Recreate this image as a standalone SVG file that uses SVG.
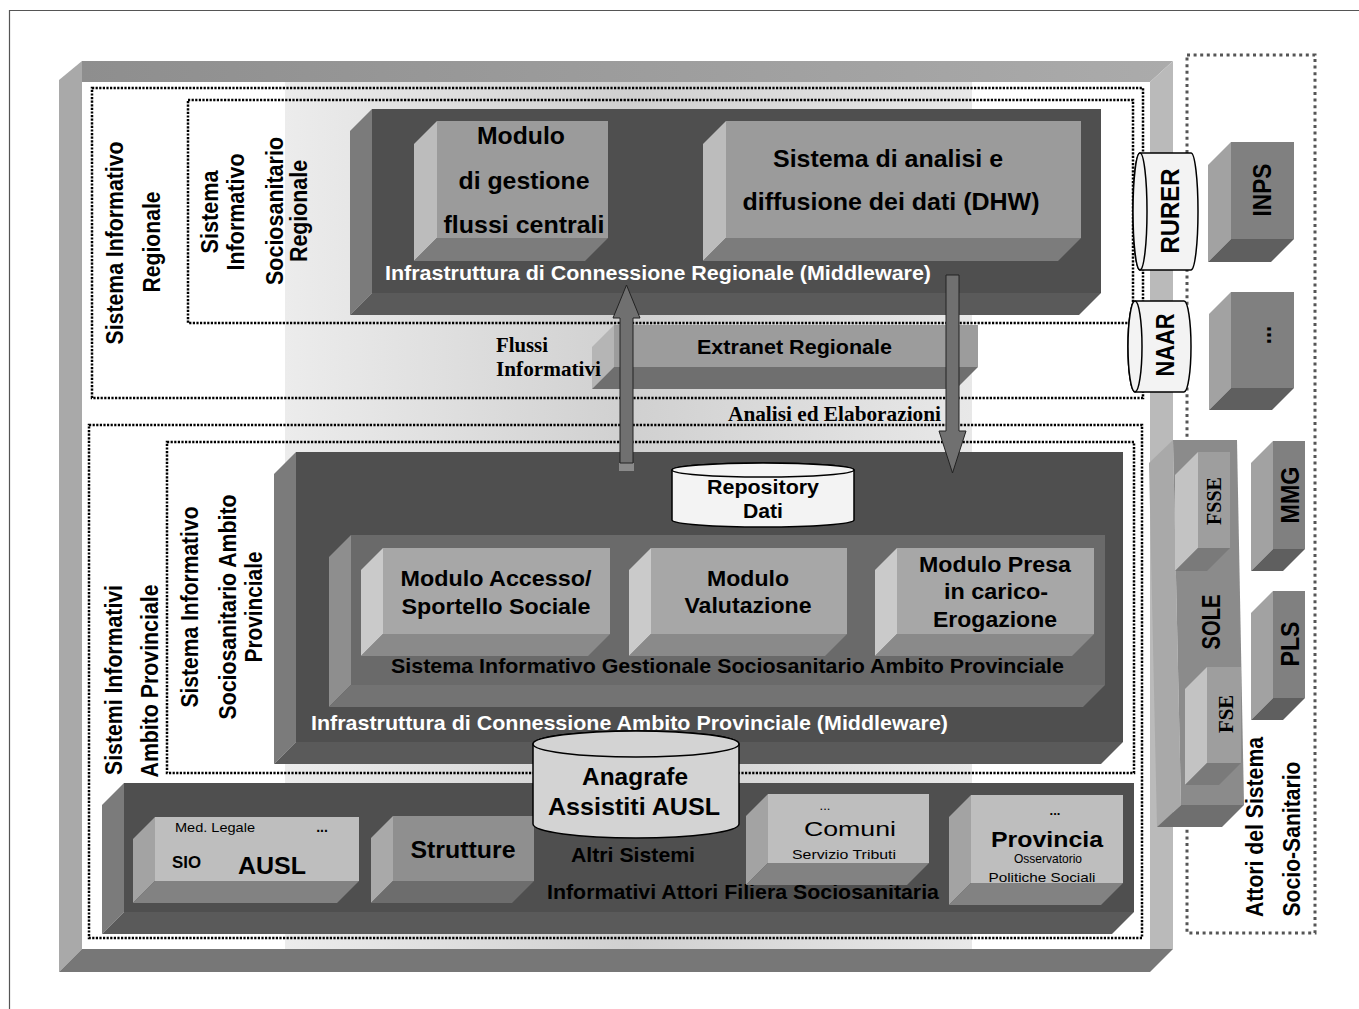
<svg xmlns="http://www.w3.org/2000/svg" width="1359" height="1009" viewBox="0 0 1359 1009">
  <defs>
    <linearGradient id="bandTop" x1="0" y1="0" x2="1" y2="0">
      <stop offset="0" stop-color="#8e8e8e"/>
      <stop offset="1" stop-color="#ababab"/>
    </linearGradient>
    <linearGradient id="haze" x1="0" y1="0" x2="1" y2="0">
      <stop offset="0" stop-color="#ececec"/>
      <stop offset="0.5" stop-color="#d0d0d0"/>
      <stop offset="1" stop-color="#e8e8e8"/>
    </linearGradient>
  </defs>
  <style>
    .sb{font-family:"Liberation Sans",Arial,sans-serif;font-weight:bold;fill:#000}
    .sr{font-family:"Liberation Sans",Arial,sans-serif;fill:#000}
    .tb{font-family:"Liberation Serif","Times New Roman",serif;font-weight:bold;fill:#000}
    .wt{fill:#fff}
    .mid{text-anchor:middle}
    .dot{fill:none;stroke:#000;stroke-width:2.5;stroke-dasharray:2.2 1.4}
    .dotg{fill:none;stroke:#555;stroke-width:3;stroke-dasharray:3 3.6}
    .dkF{fill:#4f4f4f}.dkL{fill:#7b7b7b}.dkB{fill:#5a5a5a}
    .mdF{fill:#9b9b9b}.mdL{fill:#bcbcbc}.mdB{fill:#7c7c7c}
    .gsF{fill:#6a6a6a}.gsL{fill:#8e8e8e}.gsB{fill:#737373}
    .pmF{fill:#a7a7a7}.pmL{fill:#cacaca}.pmB{fill:#8a8a8a}
    .ltF{fill:#bebebe}.ltL{fill:#a3a3a3}.ltB{fill:#828282}
    .stF{fill:#8f8f8f}.stL{fill:#a9a9a9}.stB{fill:#6d6d6d}
    .acF{fill:#808080}.acL{fill:#a2a2a2}.acB{fill:#5f5f5f}
    .soF{fill:#8b8b8b}.soL{fill:#a9a9a9}.soB{fill:#6f6f6f}
    .fsF{fill:#9e9e9e}.fsL{fill:#c3c3c3}.fsB{fill:#7a7a7a}
    .exF{fill:#9c9c9c}.exL{fill:#b5b5b5}.exB{fill:#6f6f6f}
    .cyl{stroke:#000;stroke-width:1.5}
    .arr{fill:#707070;stroke:#222;stroke-width:1}
  </style>

  <!-- page edge -->
  <path d="M9.5,1009 V10.5 H1359" fill="none" stroke="#555" stroke-width="1.2"/>

  <!-- outer bevelled frame -->
  <g id="frame">
    <rect x="82" y="82" width="1068" height="867" fill="#fff"/>
    <rect x="285" y="82" width="687" height="867" fill="url(#haze)"/>
    <polygon points="82,61 1173,61 1150,82 82,82" fill="url(#bandTop)"/>
    <polygon points="59,80 82,61 82,949 59,972" fill="#a9a9a9"/>
    <polygon points="1173,61 1173,949 1150,949 1150,82" fill="#bababa"/>
    <polygon points="82,949 1173,949 1150,972 59,972" fill="#777"/>
  </g>

  <!-- dotted area boundaries -->
  <g id="areas">
    <rect class="dot" x="92" y="88" width="1051" height="310"/>
    <rect class="dot" x="188" y="100" width="945" height="223"/>
    <rect class="dot" x="89" y="425" width="1053" height="513"/>
    <rect class="dot" x="167" y="442" width="967" height="331"/>
    <rect class="dotg" x="1187" y="55" width="128" height="878"/>
  </g>

  <!-- area titles -->
  <g id="labels-regionale">
    <text class="sb mid" font-size="21" textLength="203" lengthAdjust="spacingAndGlyphs" transform="translate(123,243) rotate(-90) scale(1,1.15)">Sistema Informativo</text>
    <text class="sb mid" font-size="21" textLength="101" lengthAdjust="spacingAndGlyphs" transform="translate(160,242) rotate(-90) scale(1,1.15)">Regionale</text>
    <text class="sb mid" font-size="21" textLength="83" lengthAdjust="spacingAndGlyphs" transform="translate(218,212) rotate(-90) scale(1,1.15)">Sistema</text>
    <text class="sb mid" font-size="21" textLength="117" lengthAdjust="spacingAndGlyphs" transform="translate(244,212) rotate(-90) scale(1,1.15)">Informativo</text>
    <text class="sb mid" font-size="21" textLength="148" lengthAdjust="spacingAndGlyphs" transform="translate(283,211) rotate(-90) scale(1,1.15)">Sociosanitario</text>
    <text class="sb mid" font-size="21" textLength="102" lengthAdjust="spacingAndGlyphs" transform="translate(307,211) rotate(-90) scale(1,1.15)">Regionale</text>
  </g>
  <g id="labels-provinciale">
    <text class="sb mid" font-size="21" textLength="190" lengthAdjust="spacingAndGlyphs" transform="translate(122,680) rotate(-90) scale(1,1.15)">Sistemi Informativi</text>
    <text class="sb mid" font-size="21" textLength="193" lengthAdjust="spacingAndGlyphs" transform="translate(158,681) rotate(-90) scale(1,1.15)">Ambito Provinciale</text>
    <text class="sb mid" font-size="21" textLength="201" lengthAdjust="spacingAndGlyphs" transform="translate(198,607) rotate(-90) scale(1,1.15)">Sistema Informativo</text>
    <text class="sb mid" font-size="21" textLength="225" lengthAdjust="spacingAndGlyphs" transform="translate(236,607) rotate(-90) scale(1,1.15)">Sociosanitario Ambito</text>
    <text class="sb mid" font-size="21" textLength="111" lengthAdjust="spacingAndGlyphs" transform="translate(262,607) rotate(-90) scale(1,1.15)">Provinciale</text>
  </g>

  <!-- regional middleware block -->
  <g id="middleware-regionale">
    <polygon class="dkL" points="372,109 350,131 350,315 372,293"/>
    <polygon class="dkB" points="372,293 1101,293 1079,315 350,315"/>
    <rect class="dkF" x="372" y="109" width="729" height="184"/>
    <text class="sb wt" x="385" y="280" font-size="20" textLength="546" lengthAdjust="spacingAndGlyphs">Infrastruttura di Connessione Regionale (Middleware)</text>
  </g>
  <g id="modulo-flussi">
    <polygon class="mdL" points="437,121 414,144 414,261 437,238"/>
    <polygon class="mdB" points="437,238 608,238 585,261 414,261"/>
    <rect class="mdF" x="437" y="121" width="171" height="117"/>
    <text class="sb mid" x="521" y="144" font-size="24" textLength="88" lengthAdjust="spacingAndGlyphs">Modulo</text>
    <text class="sb mid" x="524" y="189" font-size="24" textLength="131" lengthAdjust="spacingAndGlyphs">di gestione</text>
    <text class="sb mid" x="524" y="233" font-size="24" textLength="161" lengthAdjust="spacingAndGlyphs">flussi centrali</text>
  </g>
  <g id="dhw">
    <polygon class="mdL" points="726,121 703,144 703,261 726,238"/>
    <polygon class="mdB" points="726,238 1081,238 1058,261 703,261"/>
    <rect class="mdF" x="726" y="121" width="355" height="117"/>
    <text class="sb mid" x="888" y="167" font-size="24" textLength="230" lengthAdjust="spacingAndGlyphs">Sistema di analisi e</text>
    <text class="sb mid" x="891" y="210" font-size="24" textLength="297" lengthAdjust="spacingAndGlyphs">diffusione dei dati (DHW)</text>
  </g>
  <g id="extranet">
    <polygon class="exL" points="614,325 592,347 592,389 614,367"/>
    <polygon class="exB" points="614,367 978,367 956,389 592,389"/>
    <rect class="exF" x="614" y="325" width="364" height="42"/>
    <text class="sb mid" x="794.5" y="354" font-size="20.5" textLength="195" lengthAdjust="spacingAndGlyphs">Extranet Regionale</text>
  </g>

  <!-- provincial middleware block -->
  <g id="middleware-provinciale">
    <polygon class="dkL" points="296,452 274,474 274,764 296,742"/>
    <polygon class="dkB" points="296,742 1123,742 1101,764 274,764"/>
    <rect class="dkF" x="296" y="452" width="827" height="290"/>
    <text class="sb wt" x="311" y="730" font-size="20.5" textLength="637" lengthAdjust="spacingAndGlyphs">Infrastruttura di Connessione Ambito Provinciale (Middleware)</text>
  </g>
  <g id="gestionale">
    <polygon class="gsL" points="351,535 329,557 329,707 351,685"/>
    <polygon class="gsB" points="351,685 1105,685 1083,707 329,707"/>
    <rect class="gsF" x="351" y="535" width="754" height="150"/>
    <text class="sb" x="391" y="673" font-size="20.5" textLength="673" lengthAdjust="spacingAndGlyphs">Sistema Informativo Gestionale Sociosanitario Ambito Provinciale</text>
  </g>
  <g id="modulo-accesso">
    <polygon class="pmL" points="383,548 361,570 361,656 383,634"/>
    <polygon class="pmB" points="383,634 610,634 588,656 361,656"/>
    <rect class="pmF" x="383" y="548" width="227" height="86"/>
    <text class="sb mid" x="496" y="586" font-size="21.5" textLength="191" lengthAdjust="spacingAndGlyphs">Modulo Accesso/</text>
    <text class="sb mid" x="496" y="614" font-size="21.5" textLength="189" lengthAdjust="spacingAndGlyphs">Sportello Sociale</text>
  </g>
  <g id="modulo-valutazione">
    <polygon class="pmL" points="651,548 629,570 629,656 651,634"/>
    <polygon class="pmB" points="651,634 847,634 825,656 629,656"/>
    <rect class="pmF" x="651" y="548" width="196" height="86"/>
    <text class="sb mid" x="748" y="586" font-size="21.5" textLength="82" lengthAdjust="spacingAndGlyphs">Modulo</text>
    <text class="sb mid" x="748" y="613" font-size="21.5" textLength="127" lengthAdjust="spacingAndGlyphs">Valutazione</text>
  </g>
  <g id="modulo-presa">
    <polygon class="pmL" points="897,548 875,570 875,656 897,634"/>
    <polygon class="pmB" points="897,634 1094,634 1072,656 875,656"/>
    <rect class="pmF" x="897" y="548" width="197" height="86"/>
    <text class="sb mid" x="995" y="572" font-size="21.5" textLength="152" lengthAdjust="spacingAndGlyphs">Modulo Presa</text>
    <text class="sb mid" x="996" y="599" font-size="21.5" textLength="104" lengthAdjust="spacingAndGlyphs">in carico-</text>
    <text class="sb mid" x="995" y="627" font-size="21.5" textLength="124" lengthAdjust="spacingAndGlyphs">Erogazione</text>
  </g>
  <g id="repository">
    <path class="cyl" fill="#f3f3f3" d="M672,470 V520 A91,7 0 0 0 854,520 V470 A91,7 0 0 0 672,470 Z"/>
    <ellipse class="cyl" fill="#f3f3f3" cx="763" cy="470" rx="91" ry="7"/>
    <text class="sb mid" x="763" y="494" font-size="20" textLength="112" lengthAdjust="spacingAndGlyphs">Repository</text>
    <text class="sb mid" x="763" y="518" font-size="20" textLength="40" lengthAdjust="spacingAndGlyphs">Dati</text>
  </g>

  <!-- other actors' systems -->
  <g id="altri-sistemi">
    <polygon class="dkL" points="124,783 102,805 102,934 124,912"/>
    <polygon class="dkB" points="124,912 1134,912 1112,934 102,934"/>
    <rect class="dkF" x="124" y="783" width="1010" height="129"/>
    <text class="sb" x="571" y="862" font-size="20.5" textLength="124" lengthAdjust="spacingAndGlyphs">Altri Sistemi</text>
    <text class="sb" x="547" y="899" font-size="20.5" textLength="392" lengthAdjust="spacingAndGlyphs">Informativi Attori Filiera Sociosanitaria</text>
  </g>
  <g id="ausl">
    <polygon class="ltL" points="155,817 133,839 133,903 155,881"/>
    <polygon class="ltB" points="155,881 359,881 337,903 133,903"/>
    <rect class="ltF" x="155" y="817" width="204" height="64"/>
    <text class="sr" x="175" y="832" font-size="13" textLength="80" lengthAdjust="spacingAndGlyphs">Med. Legale</text>
    <text class="sb mid" x="322" y="832" font-size="14">...</text>
    <text class="sb" x="172" y="868" font-size="16" textLength="29" lengthAdjust="spacingAndGlyphs">SIO</text>
    <text class="sb" x="238" y="874" font-size="24" textLength="68" lengthAdjust="spacingAndGlyphs">AUSL</text>
  </g>
  <g id="strutture">
    <polygon class="stL" points="393,816 371,838 371,903 393,881"/>
    <polygon class="stB" points="393,881 534,881 512,903 371,903"/>
    <rect class="stF" x="393" y="816" width="141" height="65"/>
    <text class="sb mid" x="463" y="858" font-size="24.5" textLength="105" lengthAdjust="spacingAndGlyphs">Strutture</text>
  </g>
  <g id="comuni">
    <polygon class="ltL" points="768,794 746,816 746,885 768,863"/>
    <polygon class="ltB" points="768,863 929,863 907,885 746,885"/>
    <rect class="ltF" x="768" y="794" width="161" height="69"/>
    <text class="sr mid" x="825" y="810" font-size="13">...</text>
    <text class="sr mid" x="850" y="836" font-size="21" textLength="92" lengthAdjust="spacingAndGlyphs">Comuni</text>
    <text class="sr mid" x="844" y="859" font-size="13" textLength="104" lengthAdjust="spacingAndGlyphs">Servizio Tributi</text>
  </g>
  <g id="provincia">
    <polygon class="ltL" points="971,795 949,817 949,905 971,883"/>
    <polygon class="ltB" points="971,883 1123,883 1101,905 949,905"/>
    <rect class="ltF" x="971" y="795" width="152" height="88"/>
    <text class="sb mid" x="1055" y="815" font-size="13">...</text>
    <text class="sb mid" x="1047" y="847" font-size="22" textLength="112" lengthAdjust="spacingAndGlyphs">Provincia</text>
    <text class="sr mid" x="1048" y="863" font-size="13" textLength="68" lengthAdjust="spacingAndGlyphs">Osservatorio</text>
    <text class="sr mid" x="1042" y="882" font-size="13" textLength="107" lengthAdjust="spacingAndGlyphs">Politiche Sociali</text>
  </g>
  <g id="anagrafe">
    <path class="cyl" fill="#d3d3d3" d="M533,744 V824 A103,14 0 0 0 739,824 V744 A103,13 0 0 0 533,744 Z"/>
    <ellipse class="cyl" fill="#d3d3d3" cx="636" cy="744" rx="103" ry="13"/>
    <text class="sb mid" x="635" y="785" font-size="24.5" textLength="106" lengthAdjust="spacingAndGlyphs">Anagrafe</text>
    <text class="sb mid" x="634" y="815" font-size="24.5" textLength="172" lengthAdjust="spacingAndGlyphs">Assistiti AUSL</text>
  </g>

  <!-- regional registries -->
  <g id="rurer">
    <path class="cyl" fill="#f3f3f3" d="M1140,153 H1191 A7,58.5 0 0 1 1191,270 H1140 A7,58.5 0 0 1 1140,153 Z"/>
    <ellipse class="cyl" fill="#f3f3f3" cx="1140" cy="211.5" rx="7" ry="58.5"/>
    <text class="sb mid" font-size="23" textLength="85" lengthAdjust="spacingAndGlyphs" transform="translate(1179,211) rotate(-90) scale(1,1.15)">RURER</text>
  </g>
  <g id="naar">
    <path class="cyl" fill="#f3f3f3" d="M1135,301 H1184 A7,45.5 0 0 1 1184,392 H1135 A7,45.5 0 0 1 1135,301 Z"/>
    <ellipse class="cyl" fill="#f3f3f3" cx="1135" cy="346.5" rx="7" ry="45.5"/>
    <text class="sb mid" font-size="22" textLength="63" lengthAdjust="spacingAndGlyphs" transform="translate(1174,345) rotate(-90) scale(1,1.15)">NAAR</text>
  </g>

  <!-- health-system actors -->
  <g id="inps">
    <polygon class="acL" points="1231,142 1208,165 1208,262 1231,239"/>
    <polygon class="acB" points="1231,239 1294,239 1271,262 1208,262"/>
    <rect class="acF" x="1231" y="142" width="63" height="97"/>
    <text class="sb mid" font-size="22" textLength="53" lengthAdjust="spacingAndGlyphs" transform="translate(1271,190) rotate(-90) scale(1,1.15)">INPS</text>
  </g>
  <g id="altri-enti">
    <polygon class="acL" points="1231,292 1209,314 1209,410 1231,388"/>
    <polygon class="acB" points="1231,388 1294,388 1272,410 1209,410"/>
    <rect class="acF" x="1231" y="292" width="63" height="96"/>
    <text class="sb mid" font-size="22" transform="translate(1271,335) rotate(-90) scale(1,1.15)">...</text>
  </g>
  <g id="sole">
    <polygon class="soL" points="1173,440 1149,463 1157,827 1181,805"/>
    <polygon class="soB" points="1181,805 1244,805 1222,827 1157,827"/>
    <polygon class="soF" points="1173,440 1237,440 1244,805 1181,805"/>
    <text class="sb mid" font-size="21" textLength="55" lengthAdjust="spacingAndGlyphs" transform="translate(1220,622) rotate(-90) scale(1,1.2)">SOLE</text>
  </g>
  <g id="fsse">
    <polygon class="fsL" points="1198,452 1175,475 1175,571 1198,548"/>
    <polygon class="fsB" points="1198,548 1230,548 1207,571 1175,571"/>
    <rect class="fsF" x="1198" y="452" width="32" height="96"/>
    <text class="tb mid" font-size="20" textLength="48" lengthAdjust="spacingAndGlyphs" transform="translate(1221,501) rotate(-90)">FSSE</text>
  </g>
  <g id="fse">
    <polygon class="fsL" points="1207,667 1185,689 1185,785 1207,763"/>
    <polygon class="fsB" points="1207,763 1241,763 1219,785 1185,785"/>
    <rect class="fsF" x="1207" y="667" width="34" height="96"/>
    <text class="tb mid" font-size="20" textLength="38" lengthAdjust="spacingAndGlyphs" transform="translate(1233,714) rotate(-90)">FSE</text>
  </g>
  <g id="mmg">
    <polygon class="acL" points="1273,441 1251,463 1251,571 1273,549"/>
    <polygon class="acB" points="1273,549 1305,549 1283,571 1251,571"/>
    <rect class="acF" x="1273" y="441" width="32" height="108"/>
    <text class="sb mid" font-size="23" textLength="57" lengthAdjust="spacingAndGlyphs" transform="translate(1299,495) rotate(-90) scale(1,1.15)">MMG</text>
  </g>
  <g id="pls">
    <polygon class="acL" points="1273,591 1251,613 1251,720 1273,698"/>
    <polygon class="acB" points="1273,698 1305,698 1283,720 1251,720"/>
    <rect class="acF" x="1273" y="591" width="32" height="107"/>
    <text class="sb mid" font-size="23" textLength="45" lengthAdjust="spacingAndGlyphs" transform="translate(1299,644) rotate(-90) scale(1,1.15)">PLS</text>
  </g>
  <g id="labels-attori">
    <text class="sb mid" font-size="21" textLength="180" lengthAdjust="spacingAndGlyphs" transform="translate(1263,827) rotate(-90) scale(1,1.15)">Attori del Sistema</text>
    <text class="sb mid" font-size="21" textLength="155" lengthAdjust="spacingAndGlyphs" transform="translate(1300,839) rotate(-90) scale(1,1.15)">Socio-Sanitario</text>
  </g>

  <!-- information flows -->
  <g id="connectors">
    <rect x="619" y="463" width="15" height="8" fill="#8a8a8a"/>
    <polygon class="arr" points="620,463 620,318 613,318 626.5,285 640,318 633,318 633,463"/>
    <polygon class="arr" points="946,275 959,275 959,431 966,431 952.5,473 939,431 946,431"/>
    <text class="tb" x="496" y="352" font-size="20" textLength="52" lengthAdjust="spacingAndGlyphs">Flussi</text>
    <text class="tb" x="496" y="376" font-size="20" textLength="105" lengthAdjust="spacingAndGlyphs">Informativi</text>
    <text class="tb" x="728" y="421" font-size="20.5" textLength="213" lengthAdjust="spacingAndGlyphs">Analisi ed Elaborazioni</text>
  </g>
</svg>
